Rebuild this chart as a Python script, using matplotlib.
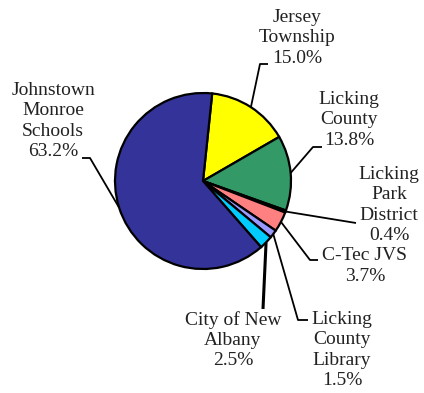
#pie chart of tax distribution

import numpy as np
from matplotlib import pyplot as plt

names = ['Jersey\nTownship', 'Licking\nCounty', 'Licking\nPark\nDistrict',
         'C-Tec JVS', 'Licking\nCounty\nLibrary', 'City of New\nAlbany',
         'Johnstown\nMonroe\nSchools']
shares = [15.0, 13.8, 0.4, 3.7, 1.5, 2.5, 63.2]
colors = ['#FFFF00', '#339966', '#1A1A1A', '#FF8080', '#9999FF', '#00CCFF', '#333399']

W, H = 424, 393
cx, cy, R = 203, H - 181, 88
start = 84

# label centres and leader elbows, in pixel coords (y measured from top)
label_pos = [(297, 38), (349, 120), (389, 205), (365, 266), (342, 350), (233, 340), (53, 121)]
elbows = [[(260, 64), (268, 64)], [(313, 147), (322, 147)], [(356, 223)],
          [(310, 260), (318, 260)], [(298, 320), (308, 320)], [(263, 309)],
          [(90, 158), (82, 158)]]
lead_w = [1.3, 1.3, 1.3, 1.3, 1.3, 2.2, 1.3]

fig = plt.figure(figsize=(W / 100, H / 100), dpi=100)
ax = fig.add_axes([0, 0, 1, 1])

wedges, _ = ax.pie(shares, colors=colors, startangle=start, counterclock=False,
                   center=(cx, cy), radius=R, frame=True,
                   wedgeprops=dict(edgecolor='black', linewidth=1.6))
ax.set_xlim(0, W)
ax.set_ylim(0, H)
ax.set_aspect('equal')
ax.axis('off')

for w, name, val, (tx, ty), elb, lw in zip(wedges, names, shares, label_pos, elbows, lead_w):
    mid = np.radians((w.theta1 + w.theta2) / 2)
    px = [cx + R * np.cos(mid)] + [e[0] for e in elb]
    py = [cy + R * np.sin(mid)] + [H - e[1] for e in elb]
    ax.plot(px, py, color='black', lw=lw, solid_capstyle='butt', zorder=0.5)
    ax.text(tx, H - ty, '%s\n%.1f%%' % (name, val), ha='center', va='center',
            fontsize=14, family='Liberation Serif', linespacing=1.24, color='#222222')

plt.savefig('out.png', dpi=100)
